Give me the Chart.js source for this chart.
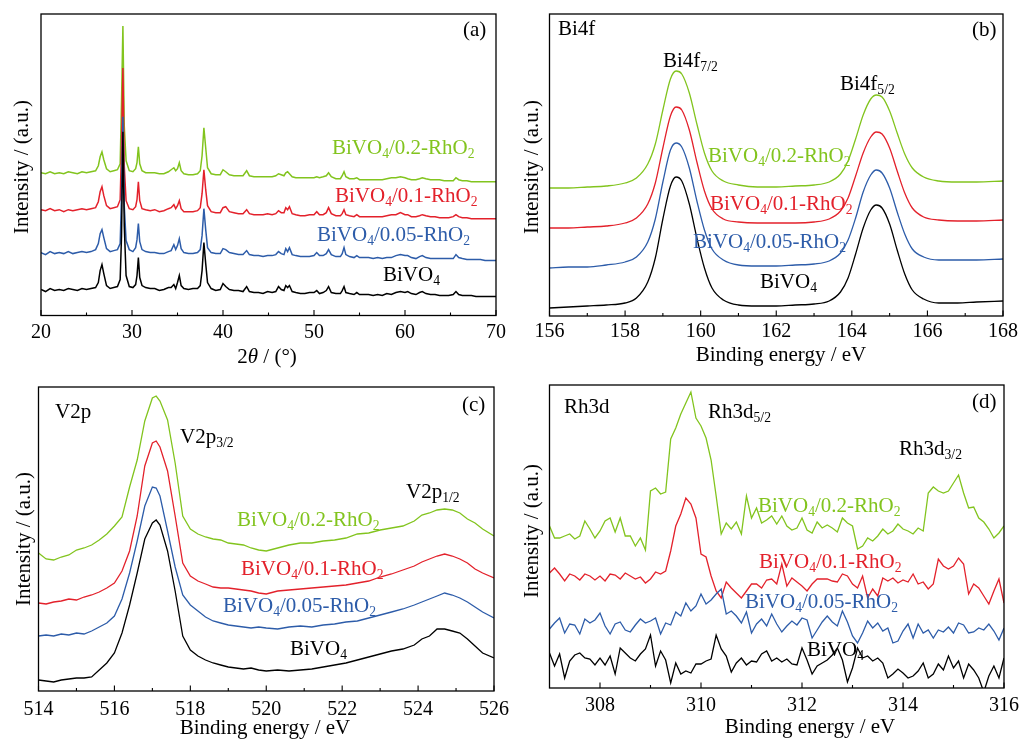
<!DOCTYPE html>
<html><head><meta charset="utf-8">
<script src="https://cdn.jsdelivr.net/npm/chart.js@4.4.0/dist/chart.umd.min.js"></script>
<style>
body{margin:0;background:#fff;width:1019px;height:742px;overflow:hidden;position:relative;font-family:"Liberation Serif","Times New Roman",serif;color:#000;}
canvas{position:absolute;left:0;top:0;}
.t{position:absolute;font-size:21px;line-height:1;white-space:nowrap;}
.t sub,.xt sub{font-size:0.65em;vertical-align:baseline;position:relative;top:0.3em;}
.yt{position:absolute;font-size:21px;line-height:1;white-space:nowrap;transform:translate(-50%,-50%) rotate(-90deg);}
.xt{position:absolute;font-size:21px;line-height:1;white-space:nowrap;transform:translate(-50%,-50%);}
.g{color:#82c41e}.r{color:#e3212b}.b{color:#2d5ca9}
</style></head><body>
<canvas id="ca" width="1019" height="742"></canvas>
<canvas id="cb" width="1019" height="742"></canvas>
<canvas id="cc" width="1019" height="742"></canvas>
<canvas id="cd" width="1019" height="742"></canvas>

<!-- panel a -->
<div class="t" style="left:463px;top:19px">(a)</div>
<div class="t g" style="left:332px;top:137px">BiVO<sub>4</sub>/0.2-RhO<sub>2</sub></div>
<div class="t r" style="left:335px;top:185px">BiVO<sub>4</sub>/0.1-RhO<sub>2</sub></div>
<div class="t b" style="left:317px;top:224px">BiVO<sub>4</sub>/0.05-RhO<sub>2</sub></div>
<div class="t" style="left:383px;top:264px">BiVO<sub>4</sub></div>
<div class="yt" style="left:21px;top:167px">Intensity / (a.u.)</div>
<div class="xt" style="left:267px;top:356px">2<i>θ</i> / (°)</div>

<!-- panel b -->
<div class="t" style="left:558px;top:18px">Bi4f</div>
<div class="t" style="left:972px;top:19px">(b)</div>
<div class="t" style="left:663px;top:50px">Bi4f<sub>7/2</sub></div>
<div class="t" style="left:840px;top:73px">Bi4f<sub>5/2</sub></div>
<div class="t g" style="left:708px;top:145px">BiVO<sub>4</sub>/0.2-RhO<sub>2</sub></div>
<div class="t r" style="left:710px;top:193px">BiVO<sub>4</sub>/0.1-RhO<sub>2</sub></div>
<div class="t b" style="left:693px;top:231px">BiVO<sub>4</sub>/0.05-RhO<sub>2</sub></div>
<div class="t" style="left:760px;top:271px">BiVO<sub>4</sub></div>
<div class="yt" style="left:531px;top:167px">Intensity / (a.u.)</div>
<div class="xt" style="left:781px;top:354px">Binding energy / eV</div>

<!-- panel c -->
<div class="t" style="left:55px;top:401px">V2p</div>
<div class="t" style="left:462px;top:394px">(c)</div>
<div class="t" style="left:180px;top:426px">V2p<sub>3/2</sub></div>
<div class="t" style="left:406px;top:481px">V2p<sub>1/2</sub></div>
<div class="t g" style="left:237px;top:509px">BiVO<sub>4</sub>/0.2-RhO<sub>2</sub></div>
<div class="t r" style="left:241px;top:558px">BiVO<sub>4</sub>/0.1-RhO<sub>2</sub></div>
<div class="t b" style="left:223px;top:595px">BiVO<sub>4</sub>/0.05-RhO<sub>2</sub></div>
<div class="t" style="left:290px;top:638px">BiVO<sub>4</sub></div>
<div class="yt" style="left:23px;top:539px">Intensity / (a.u.)</div>
<div class="xt" style="left:265px;top:727px">Binding energy / eV</div>

<!-- panel d -->
<div class="t" style="left:564px;top:396px">Rh3d</div>
<div class="t" style="left:972px;top:391px">(d)</div>
<div class="t" style="left:708px;top:401px">Rh3d<sub>5/2</sub></div>
<div class="t" style="left:899px;top:438px">Rh3d<sub>3/2</sub></div>
<div class="t g" style="left:758px;top:495px">BiVO<sub>4</sub>/0.2-RhO<sub>2</sub></div>
<div class="t r" style="left:759px;top:551px">BiVO<sub>4</sub>/0.1-RhO<sub>2</sub></div>
<div class="t b" style="left:745px;top:591px">BiVO<sub>4</sub>/0.05-RhO<sub>2</sub></div>
<div class="t" style="left:807px;top:639px">BiVO<sub>4</sub></div>
<div class="yt" style="left:531px;top:531px">Intensity / (a.u.)</div>
<div class="xt" style="left:810px;top:726px">Binding energy / eV</div>

<script>
// ---------- (a) XRD ----------
const xrdX = [
20,20.5,21,21.5,22,22.5,23,23.5,24,24.5,
25,25.5,26,26.3,26.5,26.7,26.9,27.2,27.6,28,
28.4,28.7,28.85,29.0,29.15,29.35,29.7,30.1,30.4,30.55,
30.7,30.85,31.1,31.5,32,32.5,33,33.5,34,34.3,
34.6,34.8,35.0,35.2,35.4,35.7,36.2,36.7,37.2,37.5,
37.7,37.9,38.1,38.3,38.7,39.2,39.7,40.0,40.3,40.7,
41.2,41.7,42.2,42.6,42.9,43.4,43.9,44.4,44.9,45.4,
45.8,46.1,46.4,46.7,46.9,47.1,47.3,47.6,48,48.5,
49,49.5,50,50.3,50.6,51,51.35,51.6,51.9,52.4,
52.9,53.1,53.3,53.5,53.9,54.4,54.7,55,55.5,56,
56.5,57,57.5,58,58.5,59,59.5,60,60.3,60.7,
61.2,61.6,61.9,62.3,62.8,63.3,63.8,64.3,64.8,65.3,
65.6,65.9,66.3,66.8,67.3,67.8,68.3,68.8,69.3,69.8,
70];
const xrdBiVO4 = [
26,24,27,25,26,25,27,26,25,27,
26,27,28,33,45,51,42,30,27,28,
29,36,80,184,90,40,29,28,31,40,
58,38,30,28,27,27,25,26,28,28,
31,27,33,40,30,27,26,27,27,30,
45,73,52,33,27,25,26,32,29,26,
25,25,24,29,24,23,23,22,24,23,
24,29,26,25,30,28,30,24,23,22,
22,23,23,25,22,23,25,29,23,22,
22,25,29,23,22,21,23,21,21,21,
20,21,20,22,21,23,24,23,24,22,
21,23,24,22,21,21,20,20,20,21,
24,21,20,20,20,19,19,19,19,19,
19];
const xrdRh005 = [
63,61,64,62,63,62,64,62,63,64,
63,64,66,72,82,86,78,67,64,65,
66,72,120,199,110,75,66,64,68,76,
92,74,66,64,63,63,62,62,64,65,
71,66,70,77,67,63,62,62,63,66,
80,107,86,68,63,62,62,67,66,63,
62,61,61,65,61,60,60,59,60,60,
61,64,62,61,67,64,68,61,60,59,
59,59,60,63,60,60,62,66,61,59,
59,62,68,61,59,58,60,58,58,58,
57,58,57,58,58,60,61,60,60,58,
57,59,60,58,57,57,57,57,57,57,
61,58,57,56,56,56,56,55,55,55,
55];
const xrdRh01 = [
106,105,107,105,106,104,106,105,106,107,
106,107,108,114,124,129,120,110,107,108,
109,116,170,248,150,115,107,106,109,116,
134,115,107,106,105,106,104,105,107,108,
111,107,110,115,107,104,104,104,105,108,
122,146,126,110,104,103,103,108,109,104,
103,102,102,106,102,101,101,101,102,101,
102,105,103,103,108,106,109,102,101,100,
100,101,101,104,101,101,103,108,102,100,
100,102,106,101,100,99,101,99,99,99,
99,99,99,100,101,101,103,101,101,99,
99,100,101,100,99,99,98,98,98,99,
101,99,98,98,97,97,97,97,97,97,
97];
const xrdRh02 = [
143,142,144,142,143,142,144,143,142,144,
143,144,145,150,159,164,156,147,144,145,
146,152,215,290,190,155,145,144,147,153,
169,152,145,143,143,143,142,142,144,146,
148,145,147,153,145,142,141,141,142,145,
160,188,168,148,142,141,141,146,144,141,
140,140,140,145,140,139,139,139,139,139,
140,142,141,140,143,144,142,139,138,138,
138,138,138,139,138,139,140,143,139,137,
137,140,144,139,137,137,138,136,136,136,
136,136,136,137,138,138,139,138,137,136,
136,137,138,137,136,136,136,135,135,135,
138,136,135,135,134,134,134,134,134,134,
134];
const xrdTicks = [20,30,40,50,60,70];
const xrdMinor = [25,35,45,55,65];

// ---------- (b) Bi4f ----------
const biX = [156,156.5,157,157.5,158,158.3,158.6,158.8,159.0,159.2,
159.35,159.5,159.7,159.9,160.1,160.3,160.6,161,161.5,162,
162.5,163,163.4,163.7,163.9,164.1,164.3,164.5,164.65,164.8,
165.0,165.2,165.4,165.6,165.9,166.3,166.8,167.3,168];
const biBiVO4 = [8,9,10,11,13,18,34,58,97,130,
139,135,112,78,48,28,16,11,10,10,
11,12,15,24,38,62,88,106,111,108,
92,66,42,26,17,13,13,14,15];
const biRh005 = [48,49,49,51,54,59,74,97,134,166,
173,169,148,115,86,67,56,51,50,50,
51,52,55,63,76,98,124,141,146,143,
128,104,82,67,59,56,56,56,57];
const biRh01 = [88,88,89,90,93,98,112,133,168,200,
209,206,186,154,125,107,97,94,93,93,
93,94,97,105,118,140,163,179,184,182,
168,145,123,108,99,96,95,95,96];
const biRh02 = [128,128,129,130,133,138,152,172,206,237,
245,242,223,192,163,145,135,131,129,129,
130,131,134,142,155,177,201,217,221,219,
205,183,162,148,139,135,134,134,135];
const biTicks = [156,158,160,162,164,166,168];
const biMinor = [157,159,161,163,165,167];

// ---------- (c) V2p ----------
const vX = [514,514.2,514.4,514.6,514.8,515.0,515.2,515.4,515.6,515.8,
516.0,516.2,516.4,516.6,516.8,517.0,517.1,517.2,517.4,517.6,
517.8,518.0,518.2,518.4,518.6,518.8,519.0,519.2,519.4,519.6,
519.8,520.0,520.3,520.6,520.9,521.2,521.5,521.8,522.1,522.4,
522.7,523.0,523.3,523.6,523.9,524.1,524.3,524.5,524.7,524.9,
525.1,525.3,525.5,525.7,526];
const vBiVO4 = [11,10,9,11,12,13,13,14,21,28,
38,58,86,118,152,168,171,166,140,100,
55,41,35,31,28,26,24,23,22,23,
21,20,21,20,21,22,24,26,28,31,
34,37,40,42,46,52,55,62,62,60,
58,52,45,38,33];
const vRh005 = [55,56,55,57,56,58,57,60,64,68,
75,92,118,150,185,204,203,195,160,124,
96,86,80,74,70,68,66,65,64,63,
64,63,62,64,65,64,66,67,69,70,
73,76,79,82,86,89,92,95,98,96,
93,89,84,79,73];
const vRh01 = [88,87,89,90,92,91,94,96,99,103,
108,120,140,175,225,248,250,244,220,175,
128,115,110,107,104,103,103,102,101,100,
98,97,100,101,102,103,104,105,106,108,
110,114,117,121,125,129,132,135,137,135,
132,128,122,118,113];
const vRh02 = [138,132,131,134,136,141,143,146,151,157,
165,174,204,231,270,293,295,290,271,228,
175,162,157,154,152,151,148,147,146,143,
141,140,143,146,148,148,150,151,153,157,
158,161,163,165,170,176,178,181,182,181,
178,172,168,162,155];
const vTicks = [514,516,518,520,522,524,526];
const vMinor = [515,517,519,521,523,525];

// ---------- (d) Rh3d ----------
const rhX = [307.0,307.1,307.2,307.3,307.4,307.5,307.6,307.7,307.8,307.9,
308.0,308.1,308.2,308.3,308.4,308.5,308.6,308.7,308.8,308.9,
309.0,309.1,309.2,309.3,309.4,309.5,309.6,309.7,309.8,309.9,
310.0,310.1,310.2,310.3,310.4,310.5,310.6,310.7,310.8,310.9,
311.0,311.1,311.2,311.3,311.4,311.5,311.6,311.7,311.8,311.9,
312.0,312.1,312.2,312.3,312.4,312.5,312.6,312.7,312.8,312.9,
313.0,313.1,313.2,313.3,313.4,313.5,313.6,313.7,313.8,313.9,
314.0,314.1,314.2,314.3,314.4,314.5,314.6,314.7,314.8,314.9,
315.0,315.1,315.2,315.3,315.4,315.5,315.6,315.7,315.8,315.9,
316.0];
const rhBiVO4 = [35,22,34,10,27,33,35,30,29,23,
30,23,32,14,40,35,30,27,34,39,
53,22,37,28,5,25,14,17,15,24,
24,27,29,53,39,32,16,25,30,23,
27,26,34,37,27,30,26,29,24,23,
40,28,14,22,25,28,33,40,28,6,
20,40,30,32,27,30,25,10,14,19,
15,10,12,17,25,10,14,24,18,32,
20,27,10,24,18,10,-4,12,22,10,
30];
const rhRh005 = [59,65,70,55,64,63,54,69,65,68,
75,62,54,64,66,58,56,63,69,65,
67,70,54,65,63,76,72,85,77,82,
94,84,88,94,99,74,77,72,65,76,
55,64,69,62,74,64,56,62,67,63,
70,68,50,58,66,72,66,62,77,66,
52,45,55,67,60,65,57,60,45,47,
57,64,50,64,55,58,50,58,56,61,
55,65,63,55,56,60,58,64,57,48,
60];
const rhRh01 = [115,120,114,107,114,112,108,114,112,108,
112,107,114,113,109,115,112,109,111,105,
109,116,114,117,137,162,174,190,184,170,
134,131,112,97,90,106,100,95,90,97,
104,104,100,108,109,104,124,102,110,106,
102,97,104,109,109,109,107,106,114,112,
104,100,112,90,99,92,110,107,110,105,
108,106,114,104,106,99,104,129,122,119,
122,130,124,94,104,100,92,84,97,109,
85];
const rhRh02 = [162,150,150,152,154,149,152,167,159,150,
157,167,170,156,170,152,152,142,150,138,
197,200,194,196,249,260,274,285,296,270,
262,250,228,192,154,165,159,166,154,192,
170,180,165,168,172,164,172,162,158,160,
170,158,155,166,160,163,160,156,170,165,
162,139,142,150,147,152,159,154,157,164,
159,157,154,160,157,195,201,197,195,197,
205,213,195,180,181,170,166,159,150,155,
162];
const rhTicks = [308,310,312,314,316];
const rhMinor = [309,311,313,315];

const GREEN='#82c41e', RED='#e3212b', BLUE='#2d5ca9', BLACK='#000000';

function framePlugin(majors, minors, labelOffset){
  return {
    id:'frame',
    afterDraw(chart){
      const {ctx, chartArea:a, scales:{x}} = chart;
      ctx.save();
      ctx.strokeStyle='#000';
      ctx.lineWidth=1.3;
      ctx.strokeRect(a.left, a.top, a.right-a.left, a.bottom-a.top);
      ctx.lineWidth=1.1;
      ctx.beginPath();
      majors.forEach(v=>{const p=x.getPixelForValue(v); ctx.moveTo(p,a.bottom); ctx.lineTo(p,a.bottom-5.5);});
      minors.forEach(v=>{const p=x.getPixelForValue(v); ctx.moveTo(p,a.bottom); ctx.lineTo(p,a.bottom-3);});
      ctx.stroke();
      ctx.fillStyle='#000';
      ctx.font='20px "Liberation Serif"';
      ctx.textAlign='center';
      ctx.textBaseline='alphabetic';
      majors.forEach(v=>{ctx.fillText(String(v), x.getPixelForValue(v), a.bottom+labelOffset);});
      ctx.restore();
    }
  };
}

function panel(id, box, xs, series, xmin, xmax, majors, minors, ymax, labelOffset, smooth, lw){
  const colors=[BLACK,BLUE,RED,GREEN];
  const datasets = series.map((arr,k)=>({
    data: xs.map((x,i)=>({x:x, y:arr[i]})),
    borderColor: colors[k], borderWidth: lw, pointRadius: 0, fill:false,
    tension: smooth?0.4:0, cubicInterpolationMode: smooth?'monotone':'default'
  }));
  new Chart(document.getElementById(id), {
    type:'line',
    data:{datasets},
    options:{
      responsive:false, animation:false, events:[],
      layout:{padding:{left:box.l, top:box.t, right:1019-box.r, bottom:742-box.b}},
      plugins:{legend:{display:false}, tooltip:{enabled:false}},
      scales:{
        x:{type:'linear', display:false, min:xmin, max:xmax},
        y:{display:false, min:0, max:ymax}
      }
    },
    plugins:[framePlugin(majors, minors, labelOffset)]
  });
}

panel('ca', {l:41, r:496, t:14, b:315.5}, xrdX, [xrdBiVO4, xrdRh005, xrdRh01, xrdRh02], 20, 70, xrdTicks, xrdMinor, 302, 22, false, 1.5);
panel('cb', {l:549.5, r:1003, t:14, b:316}, biX, [biBiVO4, biRh005, biRh01, biRh02], 156, 168, biTicks, biMinor, 302, 21, true, 1.3);
panel('cc', {l:38.5, r:494, t:387, b:691}, vX, [vBiVO4, vRh005, vRh01, vRh02], 514, 526, vTicks, vMinor, 304, 24, false, 1.3);
panel('cd', {l:549.5, r:1004, t:385, b:688}, rhX, [rhBiVO4, rhRh005, rhRh01, rhRh02], 307, 316, rhTicks, rhMinor, 303, 23, false, 1.3);
</script>
</body></html>
